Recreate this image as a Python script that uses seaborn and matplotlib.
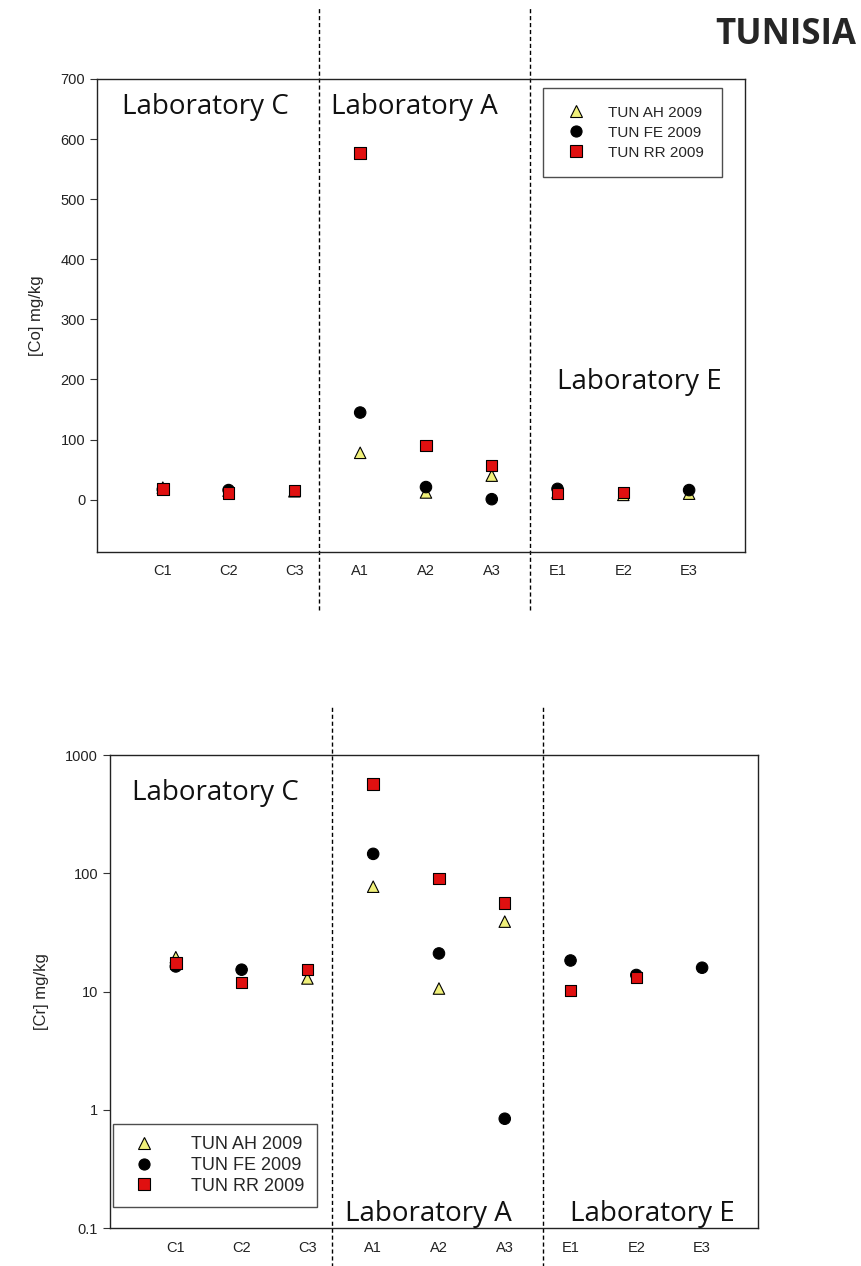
import numpy as np
import pandas as pd
import matplotlib
matplotlib.use("Agg")
import matplotlib.pyplot as plt
from matplotlib.lines import Line2D
import seaborn as sns

# data
sites = ["C1", "C2", "C3", "A1", "A2", "A3", "E1", "E2", "E3"]
series = ["TUN AH 2009", "TUN FE 2009", "TUN RR 2009"]

# [Co] mg/kg (top panel)
co_ah = [20, 15, 14, 78, 12, 40, 12, 8, 10]
co_fe = [17, 16, np.nan, 145, 21, 0.85, 18, np.nan, 16]
co_rr = [18, 11, 15, 577, 90, 57, 10, 12, np.nan]

# [Cr] mg/kg (bottom panel)
cr_ah = [19.5, np.nan, 12.9, 77, 10.6, 39, np.nan, np.nan, np.nan]
cr_fe = [16.3, 15.3, np.nan, 146, 21, 0.84, 18.3, 13.8, 15.9]
cr_rr = [17.5, 11.9, 15.3, 570, 90, 56, 10.2, 13.1, np.nan]

colors = {"TUN AH 2009": "#f0f07a", "TUN FE 2009": "black", "TUN RR 2009": "#e01010"}
marks = {"TUN AH 2009": "^", "TUN FE 2009": "o", "TUN RR 2009": "s"}


def long_df(ah, fe, rr):
    rows = []
    for name, vals in zip(series, [ah, fe, rr]):
        for i, v in enumerate(vals):
            rows.append({"pos": i, "value": v, "series": name})
    return pd.DataFrame(rows).dropna()


sns.set_style("ticks")
plt.rcParams["font.family"] = ["Liberation Sans", "DejaVu Sans"]

fig = plt.figure(figsize=(8.61, 12.66), dpi=100)
ax1 = fig.add_axes([0.1127, 0.564, 0.7526, 0.3736])
ax2 = fig.add_axes([0.1278, 0.030, 0.7526, 0.3736])


def draw(ax, df):
    sns.scatterplot(data=df, x="pos", y="value", hue="series", style="series",
                    palette=colors, markers=marks, s=68, edgecolor="black",
                    linewidth=0.8, legend=False, ax=ax, zorder=3)
    ax.set_xlim(-1, 8.85)
    ax.set_xticks(range(len(sites)))
    ax.set_xticklabels(sites)
    ax.set_xlabel("")
    for spine in ax.spines.values():
        spine.set_visible(True)
        spine.set_linewidth(1.0)
        spine.set_color("#222222")
    ax.tick_params(axis="both", labelsize=10.5, length=5, color="#333333",
                   labelcolor="#222222", top=False, right=False)
    ax.tick_params(axis="x", length=0, pad=9)


def legend(ax, fs, pad, spacing, textpad, **kw):
    handles = [Line2D([], [], linestyle="", marker=marks[n], markersize=8,
                      markerfacecolor=colors[n], markeredgecolor="black",
                      markeredgewidth=0.8) for n in series]
    leg = ax.legend(handles, series, fontsize=fs, frameon=True, fancybox=False,
                    edgecolor="#222222", handletextpad=textpad, labelspacing=spacing,
                    borderpad=pad, borderaxespad=0, **kw)
    leg.get_frame().set_linewidth(1.0)


lab_font = dict(family=["Open Sans", "DejaVu Sans"], fontsize=20, color="#111111",
                ha="center", va="center")

# top panel
draw(ax1, long_df(co_ah, co_fe, co_rr))
ax1.set_ylim(-87, 700)
ax1.set_yticks(range(0, 701, 100))
ax1.set_ylabel("[Co] mg/kg", fontsize=12, labelpad=12)
for xv in [2.38, 5.58]:
    ax1.axvline(xv, ymin=-0.123, ymax=1.15, color="black", linestyle=(0, (3, 2)),
                linewidth=1.0, clip_on=False)
tr1 = ax1.get_xaxis_transform()
ax1.text(0.64, 0.94, "Laboratory C", transform=tr1, **lab_font)
ax1.text(3.83, 0.94, "Laboratory A", transform=tr1, **lab_font)
ax1.text(7.25, 0.36, "Laboratory E", transform=tr1, **lab_font)
legend(ax1, 11, 1.15, 0.4, 1.1, loc="upper right", bbox_to_anchor=(0.964, 0.981))

# bottom panel
draw(ax2, long_df(cr_ah, cr_fe, cr_rr))
ax2.set_yscale("log")
ax2.set_ylim(0.1, 1000)
ax2.set_yticks([0.1, 1, 10, 100, 1000])
ax2.set_yticklabels(["0.1", "1", "10", "100", "1000"])
ax2.minorticks_off()
ax2.set_ylabel("[Cr] mg/kg", fontsize=12, labelpad=12)
for xv in [2.38, 5.58]:
    ax2.axvline(xv, ymin=-0.09, ymax=1.106, color="black", linestyle=(0, (3, 2)),
                linewidth=1.0, clip_on=False)
tr2 = ax2.get_xaxis_transform()
ax2.text(0.6, 0.92, "Laboratory C", transform=tr2, **lab_font)
ax2.text(3.84, 0.03, "Laboratory A", transform=tr2, **lab_font)
ax2.text(7.24, 0.03, "Laboratory E", transform=tr2, **lab_font)
legend(ax2, 13, 0.7, 0.2, 1.6, loc="lower left", bbox_to_anchor=(0.005, 0.044))

fig.text(0.913, 0.972, "TUNISIA", fontsize=25, fontweight="bold",
         family=["Open Sans", "DejaVu Sans"], ha="center", va="center")

fig.savefig("out.png", dpi=100)
